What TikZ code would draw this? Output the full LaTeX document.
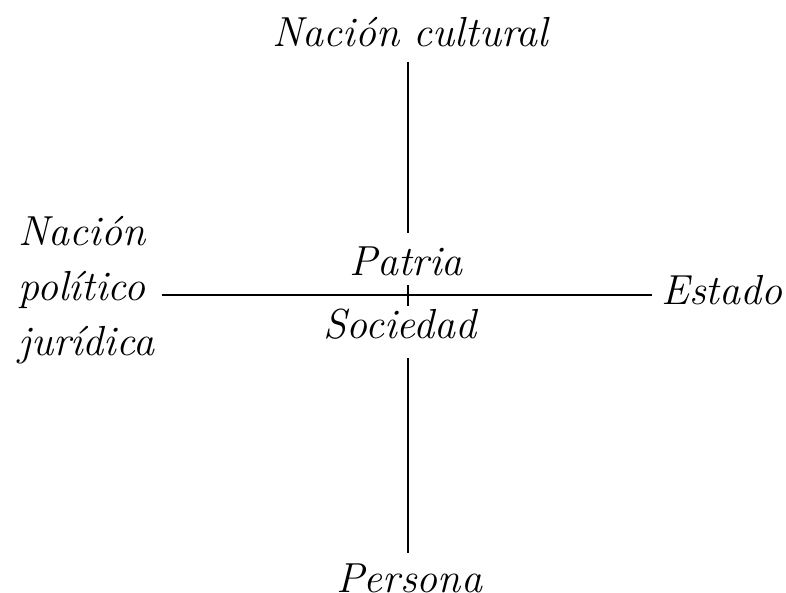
\documentclass[tikz,border=0pt]{standalone}
\usepackage{tikz}
\tikzset{
  lbl/.style={font=\fontsize{21}{27.5}\selectfont\itshape, inner sep=0pt, anchor=base},
  axis/.style={line width=1.2pt}
}
\begin{document}
\begin{tikzpicture}[x=0.5pt,y=-0.5pt]
		%%%%% START %%%%%
		\useasboundingbox (0,0) rectangle (786,593);
		
		\node[lbl] (cultural) at (410,47) {Nación cultural};
		\node[lbl] (patria) at (406,275) {Patria};
		\node[lbl] (sociedad) at (400,338) {Sociedad};
		\node[lbl, align=left, anchor=base west] (nacion) at (18,355) {Nación\\político\\jurídica};
		\node[lbl, anchor=base east] (estado) at (783,304) {Estado};
		\node[lbl] (persona) at (409,592) {Persona};
		
		\coordinate (vtop) at (408,62);
		\coordinate (vtopend) at (408,233);
		\coordinate (vmid) at (408,285);
		\coordinate (vmidend) at (408,306);
		\coordinate (vbot) at (408,358);
		\coordinate (vbotend) at (408,553);
		\coordinate (hleft) at (162,295);
		\coordinate (hright) at (652,295);
		
		\draw[axis] (vtop) -- (vtopend);
		\draw[axis] (vmid) -- (vmidend);
		\draw[axis] (vbot) -- (vbotend);
		\draw[axis] (hleft) -- (hright);
		%%%%% END %%%%%
\end{tikzpicture}
\end{document}
